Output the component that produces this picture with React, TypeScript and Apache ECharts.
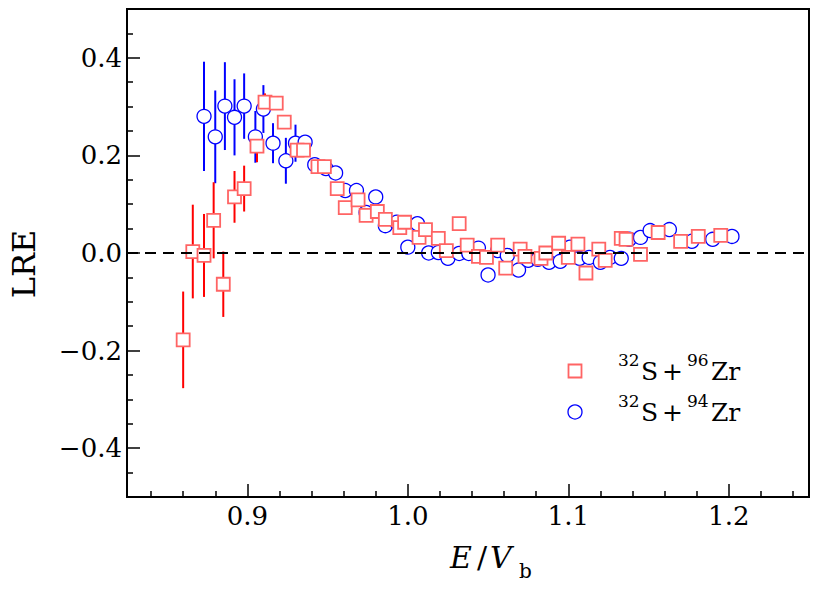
import React, { useEffect, useRef } from "react";
import * as echarts from "echarts";

// 32S+96Zr (red squares)
const redX = [0.860, 0.866, 0.873, 0.879, 0.885, 0.892, 0.898, 0.906, 0.911, 0.918, 0.923, 0.931, 0.935, 0.944, 0.948, 0.956, 0.961, 0.969, 0.974, 0.981, 0.986, 0.995, 0.998, 1.007, 1.011, 1.019, 1.024, 1.032, 1.037, 1.044, 1.049, 1.056, 1.061, 1.070, 1.073, 1.083, 1.086, 1.094, 1.100, 1.106, 1.111, 1.119, 1.123, 1.133, 1.136, 1.145, 1.156, 1.170, 1.181, 1.195];
const redY = [-0.178, 0.003, -0.005, 0.067, -0.064, 0.115, 0.132, 0.219, 0.309, 0.307, 0.268, 0.211, 0.211, 0.177, 0.177, 0.132, 0.093, 0.109, 0.077, 0.085, 0.069, 0.052, 0.063, 0.032, 0.048, 0.030, 0.005, 0.060, 0.016, -0.007, -0.009, 0.016, -0.031, 0.008, -0.007, -0.011, 0.000, 0.020, -0.009, 0.018, -0.041, 0.008, -0.015, 0.030, 0.028, -0.003, 0.042, 0.024, 0.034, 0.036];
const redErr = [0.099, 0.096, 0.085, 0.078, 0.067, 0.053, 0.047, 0.033, 0.018, 0.012, 0.012, 0.012, 0.012, 0.012, 0.012, 0.012, 0.012, 0.012, 0.012, 0.012, 0.012, 0.012, 0.012, 0.012, 0.012, 0.012, 0.012, 0.012, 0.012, 0.012, 0.012, 0.012, 0.012, 0.012, 0.012, 0.012, 0.012, 0.012, 0.012, 0.012, 0.012, 0.012, 0.012, 0.012, 0.012, 0.012, 0.012, 0.012, 0.012, 0.012];

// 32S+94Zr (blue circles)
const blueX = [0.873, 0.880, 0.886, 0.892, 0.898, 0.905, 0.910, 0.916, 0.924, 0.930, 0.936, 0.942, 0.949, 0.955, 0.961, 0.968, 0.974, 0.980, 0.986, 0.993, 1.000, 1.006, 1.013, 1.019, 1.025, 1.032, 1.038, 1.044, 1.050, 1.056, 1.062, 1.069, 1.075, 1.081, 1.088, 1.095, 1.101, 1.107, 1.113, 1.120, 1.126, 1.133, 1.138, 1.145, 1.151, 1.163, 1.177, 1.190, 1.202];
const blueY = [0.280, 0.238, 0.301, 0.278, 0.301, 0.238, 0.295, 0.225, 0.189, 0.225, 0.227, 0.181, 0.173, 0.164, 0.128, 0.128, 0.083, 0.115, 0.056, 0.063, 0.012, 0.060, 0.000, 0.001, -0.011, -0.001, -0.001, 0.010, -0.045, 0.005, -0.005, -0.035, -0.015, -0.013, -0.019, -0.017, 0.012, -0.011, -0.009, -0.019, -0.009, -0.011, 0.028, 0.032, 0.046, 0.048, 0.024, 0.028, 0.034];
const blueErr = [0.112, 0.095, 0.090, 0.078, 0.067, 0.053, 0.049, 0.041, 0.047, 0.038, 0.010, 0.010, 0.010, 0.010, 0.010, 0.010, 0.010, 0.010, 0.010, 0.010, 0.010, 0.010, 0.010, 0.010, 0.010, 0.010, 0.010, 0.010, 0.010, 0.010, 0.010, 0.010, 0.010, 0.010, 0.010, 0.010, 0.010, 0.010, 0.010, 0.010, 0.010, 0.010, 0.010, 0.010, 0.010, 0.010, 0.010, 0.010, 0.010];

const xMajor = [0.9, 1.0, 1.1, 1.2];
const xMinor = [0.84, 0.86, 0.88, 0.92, 0.94, 0.96, 0.98, 1.02, 1.04, 1.06, 1.08, 1.12, 1.14, 1.16, 1.18, 1.22, 1.24];
const yMajor = [-0.4, -0.2, 0.0, 0.2, 0.4];
const yMinor = [-0.45, -0.35, -0.3, -0.25, -0.15, -0.1, -0.05, 0.05, 0.1, 0.15, 0.25, 0.3, 0.35, 0.45];

const FONT = "'DejaVu Serif', serif";
const RED = "#ff0000";
const RED_EDGE = "#ff6464";
const BLUE = "#0000ff";

function errSeries(xs: number[], ys: number[], es: number[], color: string) {
  return {
    type: "custom",
    xAxisIndex: 0,
    yAxisIndex: 0,
    silent: true,
    data: xs.map((x, i) => [x, ys[i] - es[i], ys[i] + es[i]]),
    encode: { x: 0, y: [1, 2] },
    renderItem: (params: any, api: any) => {
      const p1 = api.coord([api.value(0), api.value(1)]);
      const p2 = api.coord([api.value(0), api.value(2)]);
      return {
        type: "line",
        shape: { x1: p1[0], y1: p1[1], x2: p2[0], y2: p2[1] },
        style: { stroke: color, lineWidth: 2 },
      };
    },
  };
}

export default function App() {
  const ref = useRef<HTMLDivElement>(null);
  useEffect(() => {
    if (!ref.current) return;
    const chart = echarts.init(ref.current, null, { renderer: "svg" });
    const tickStyle = { color: "#000", width: 1.5 };
    const labelFont = { fontFamily: FONT, fontSize: 26, color: "#000" };
    const txt = (x: number, y: number, text: string, size: number, extra: any = {}) => ({
      type: "text",
      x,
      y,
      style: { text, fontFamily: FONT, fontSize: size, fill: "#000", align: "left", verticalAlign: "middle", ...extra },
    });
    const option: any = {
      animation: false,
      backgroundColor: "#fff",
      grid: { left: 127, right: 8, top: 9, bottom: 95, show: true, borderColor: "#000", borderWidth: 2, backgroundColor: "transparent" },
      xAxis: [
        {
          type: "value",
          min: 0.825,
          max: 1.25,
          axisLine: { onZero: false, lineStyle: { color: "#000", width: 2 } },
          axisTick: { inside: true, length: 13, lineStyle: tickStyle, customValues: xMajor },
          axisLabel: { ...labelFont, margin: 6, customValues: xMajor, formatter: (v: number) => v.toFixed(1) },
          splitLine: { show: false },
        },
        {
          type: "value",
          min: 0.825,
          max: 1.25,
          position: "bottom",
          axisLine: { show: false, onZero: false },
          axisTick: { inside: true, length: 6, lineStyle: tickStyle, customValues: xMinor },
          axisLabel: { show: false },
          splitLine: { show: false },
        },
      ],
      yAxis: [
        {
          type: "value",
          min: -0.5,
          max: 0.5,
          axisLine: { onZero: false, lineStyle: { color: "#000", width: 2 } },
          axisTick: { inside: true, length: 13, lineStyle: tickStyle, customValues: yMajor },
          axisLabel: {
            ...labelFont,
            margin: 5,
            customValues: yMajor,
            formatter: (v: number) => (v < -1e-9 ? "\u2212" : "") + Math.abs(v).toFixed(1),
          },
          splitLine: { show: false },
        },
        {
          type: "value",
          min: -0.5,
          max: 0.5,
          position: "left",
          axisLine: { show: false, onZero: false },
          axisTick: { inside: true, length: 6, lineStyle: tickStyle, customValues: yMinor },
          axisLabel: { show: false },
          splitLine: { show: false },
        },
      ],
      series: [
        errSeries(blueX, blueY, blueErr, BLUE),
        {
          type: "scatter",
          symbol: "circle",
          symbolSize: 14,
          itemStyle: { color: "#fff", borderColor: BLUE, borderWidth: 1.3, opacity: 1 },
          data: blueX.map((x, i) => [x, blueY[i]]),
          silent: true,
          markLine: {
            silent: true,
            symbol: ["none", "none"],
            label: { show: false },
            lineStyle: { color: "#000", width: 2, type: [11, 7], opacity: 1 },
            emphasis: { disabled: true },
            data: [{ yAxis: 0 }],
          },
        },
        errSeries(redX, redY, redErr, RED),
        {
          type: "scatter",
          symbol: "rect",
          symbolSize: 13,
          itemStyle: { color: "#fff", borderColor: RED_EDGE, borderWidth: 1.8, opacity: 1 },
          data: redX.map((x, i) => [x, redY[i]]),
          silent: true,
        },
      ],
      graphic: [
        {
          type: "text",
          x: 24,
          y: 264,
          rotation: Math.PI / 2,
          style: { text: "LRE", fontFamily: FONT, fontSize: 32, fill: "#000", align: "center", verticalAlign: "middle" },
        },
        txt(450, 557.5, "E", 30, { fontStyle: "italic" }),
        txt(477, 557.5, "/", 30),
        txt(490, 557.5, "V", 30, { fontStyle: "italic" }),
        txt(519, 571, "b", 20),
        {
          type: "rect",
          shape: { x: 568.5, y: 364.5, width: 13, height: 13 },
          style: { fill: "#fff", stroke: RED_EDGE, lineWidth: 1.8 },
        },
        {
          type: "circle",
          shape: { cx: 575, cy: 412, r: 7 },
          style: { fill: "#fff", stroke: BLUE, lineWidth: 1.3 },
        },
        txt(618, 360, "32", 17),
        txt(641, 371, "S", 25),
        txt(662, 371, "+", 25),
        txt(687, 360, "96", 17),
        txt(711, 371, "Zr", 25),
        txt(618, 401, "32", 17),
        txt(641, 412, "S", 25),
        txt(662, 412, "+", 25),
        txt(687, 401, "94", 17),
        txt(711, 412, "Zr", 25),
      ],
    };
    chart.setOption(option);
    return () => chart.dispose();
  }, []);
  return <div ref={ref} style={{ position: "fixed", left: 0, top: 0, width: 817, height: 592, background: "#fff" }} />;
}
